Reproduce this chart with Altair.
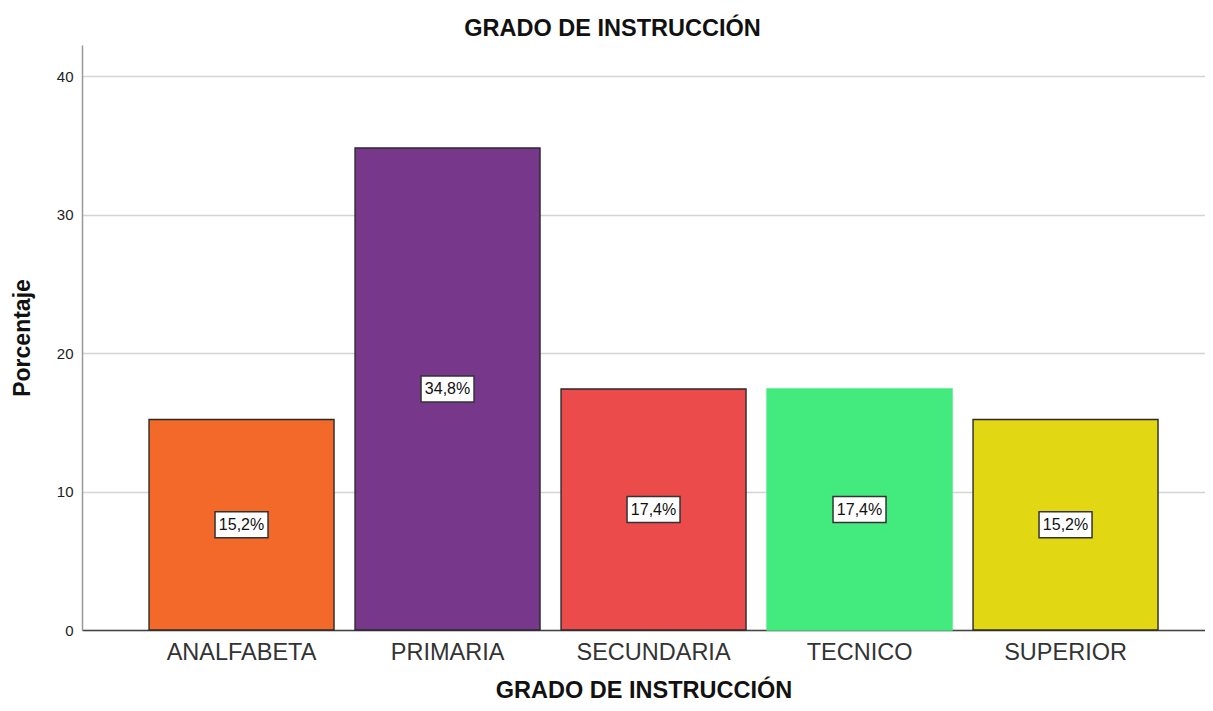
import altair as alt
import pandas as pd

categories = ["ANALFABETA", "PRIMARIA", "SECUNDARIA", "TECNICO", "SUPERIOR"]
values = [15.2, 34.8, 17.4, 17.4, 15.2]
labels = ["15,2%", "34,8%", "17,4%", "17,4%", "15,2%"]
fills = ["#F2692A", "#77378B", "#EB4B4B", "#43EB7F", "#E1D712"]
strokes = ["#2a2a2a", "#2a2a2a", "#2a2a2a", "#43EB7F", "#2a2a2a"]

df = pd.DataFrame({
    "cat": categories,
    "val": values,
    "half": [v / 2 for v in values],
    "lab": labels,
    "fill": fills,
    "stroke": strokes,
})

FONT = "Liberation Sans"

x = alt.X(
    "cat:N",
    sort=categories,
    scale=alt.Scale(paddingInner=0.102, paddingOuter=0.2767, align=0.588),
    axis=alt.Axis(
        title="GRADO DE INSTRUCCIÓN",
        labelAngle=0,
        labelFontSize=23.5,
        labelColor="#333333",
        labelFont=FONT,
        labelPadding=10,
        ticks=False,
        domainColor="#444444",
        domainWidth=1.5,
        titleFont=FONT,
        titleFontSize=23.5,
        titleFontWeight="bold",
        titleColor="#111111",
        titlePadding=15,
    ),
)

bars = alt.Chart(df).mark_bar(strokeWidth=1.4).encode(
    x=x,
    y=alt.Y(
        "val:Q",
        scale=alt.Scale(domain=[0, 42.24], nice=False),
        axis=alt.Axis(
            title="Porcentaje",
            values=[0, 10, 20, 30, 40],
            ticks=False,
            labelFont=FONT,
            labelFontSize=15,
            labelColor="#222222",
            labelPadding=9,
            domainColor="#999999",
            domainWidth=1.5,
            gridColor="#d4d4d4",
            gridWidth=1.5,
            titleFont=FONT,
            titleFontSize=23,
            titleFontWeight="bold",
            titleColor="#111111",
            titlePadding=22,
        ),
    ),
    fill=alt.Fill("fill:N", scale=None),
    stroke=alt.Stroke("stroke:N", scale=None),
)

boxes = alt.Chart(df).mark_point(
    shape="M-1,-0.49L1,-0.49L1,0.49L-1,0.49Z",
    size=2809,
    filled=True,
    fill="white",
    stroke="#333333",
    strokeWidth=1.5,
    opacity=1,
).encode(
    x=alt.X("cat:N", sort=categories),
    y=alt.Y("half:Q"),
)

texts = alt.Chart(df).mark_text(
    font=FONT, fontSize=16, color="#111111", baseline="middle", align="center"
).encode(
    x=alt.X("cat:N", sort=categories),
    y=alt.Y("half:Q"),
    text="lab:N",
)

chart = (
    alt.layer(bars, boxes, texts)
    .properties(
        width=1123,
        height=585,
        title=alt.TitleParams(
            "GRADO DE INSTRUCCIÓN",
            font=FONT,
            fontSize=23.5,
            fontWeight="bold",
            color="#111111",
            offset=5,
            dx=-31,
        ),
        autosize=alt.AutoSizeParams(type="none"),
        padding={"left": 74, "top": 37, "right": 0, "bottom": 73},
    )
    .configure_view(stroke=None)
)

chart.save("out.html", embed_options={"renderer": "svg", "actions": False})
